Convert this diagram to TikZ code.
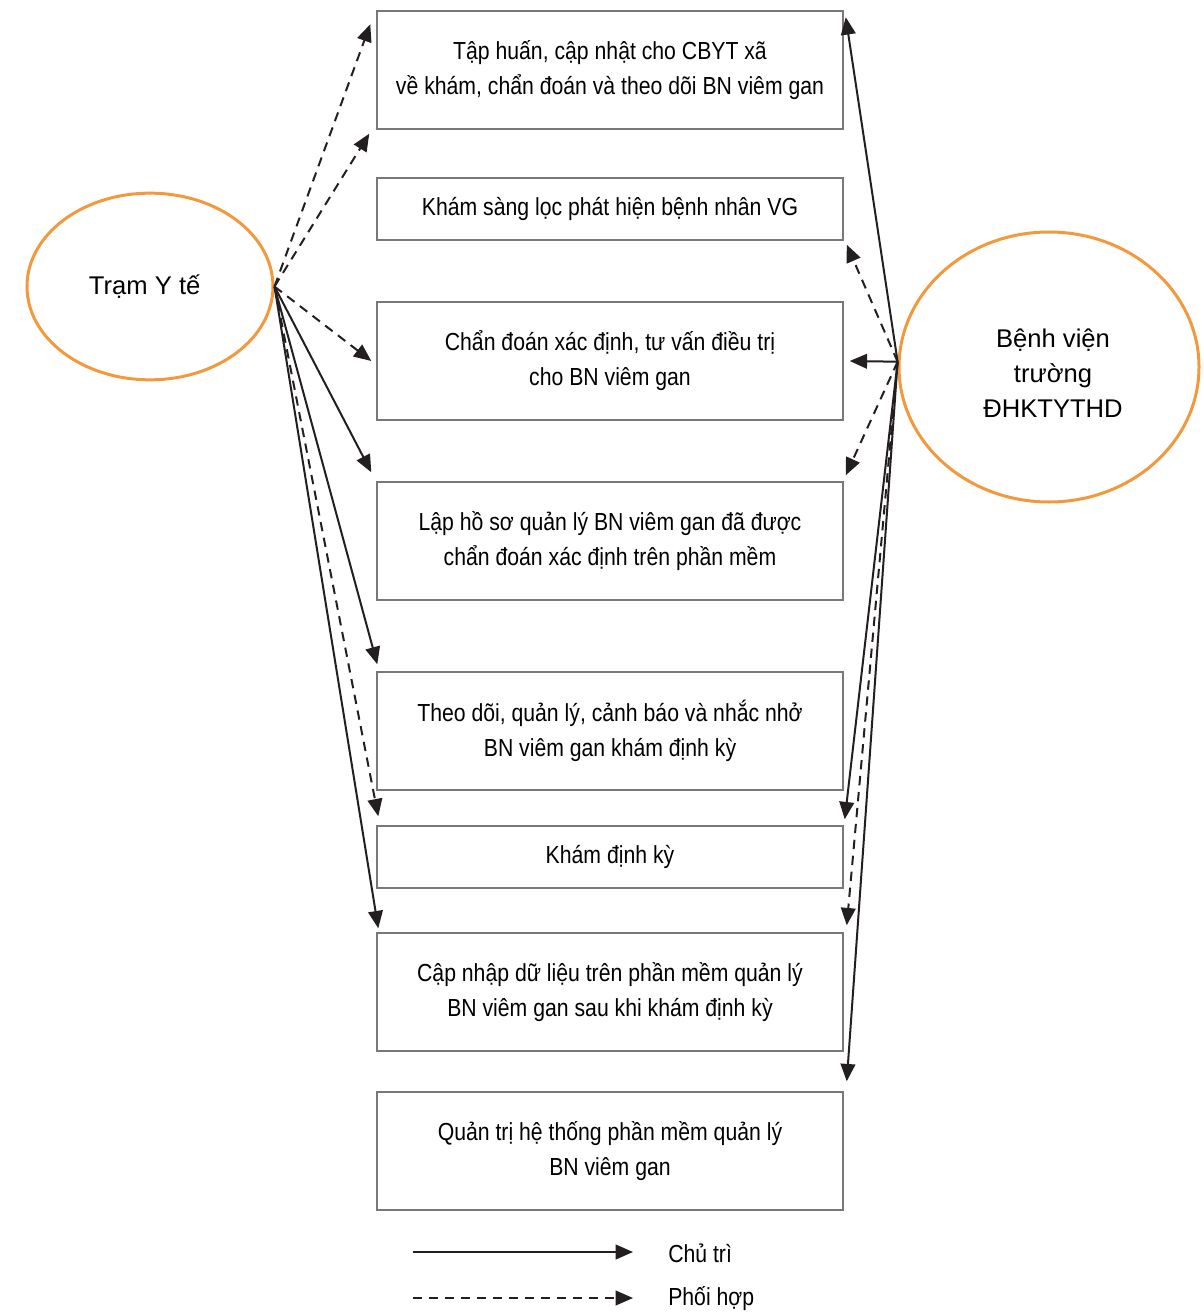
\documentclass[tikz,border=0pt]{standalone}
\usepackage{fontspec}
\setmainfont{Liberation Sans}
\newfontfamily\narrowfont[FakeStretch=0.86]{Liberation Sans}
\usetikzlibrary{shapes.geometric,arrows.meta,calc}

\definecolor{ovalorange}{RGB}{242,153,62}
\definecolor{boxgray}{RGB}{120,120,120}
\definecolor{arrowblack}{RGB}{35,31,32}

\tikzset{
  taskbox/.style={draw=boxgray, line width=1.1pt, minimum width=349.5pt, align=center, inner sep=0pt,
    font=\narrowfont\fontsize{18.5}{26.25}\selectfont},
  highbox/.style={taskbox, minimum height=88.5pt},
  lowbox/.style={taskbox, minimum height=46.5pt},
  oval/.style={draw=ovalorange, line width=2.25pt, ellipse, align=center, inner sep=0pt,
    font=\fontsize{19.2}{26.25}\selectfont},
  lead/.style={arrowblack, line width=1.5pt, -{Triangle[length=13pt,width=11pt]}},
  assist/.style={lead, dash pattern=on 7pt off 5pt},
}

\begin{document}
\begin{tikzpicture}[x=0.75pt,y=-0.75pt]
\useasboundingbox (0,0) rectangle (1203,1312);

% Boxes
\node[highbox] (training) at (610,70) {Tập huấn, cập nhật cho CBYT xã\\về khám, chẩn đoán và theo dõi BN viêm gan};
\node[lowbox] (screening) at (610,209) {Khám sàng lọc phát hiện bệnh nhân VG};
\node[highbox] (diagnosis) at (610,361) {Chẩn đoán xác định, tư vấn điều trị\\cho BN viêm gan};
\node[highbox] (records) at (610,541) {Lập hồ sơ quản lý BN viêm gan đã được\\chẩn đoán xác định trên phần mềm};
\node[highbox] (monitor) at (610,731) {Theo dõi, quản lý, cảnh báo và nhắc nhở\\BN viêm gan khám định kỳ};
\node[lowbox] (checkup) at (610,857) {Khám định kỳ};
\node[highbox] (update) at (610,992) {Cập nhập dữ liệu trên phần mềm quản lý\\BN viêm gan sau khi khám định kỳ};
\node[highbox] (admin) at (610,1151) {Quản trị hệ thống phần mềm quản lý\\BN viêm gan};

% Ellipses
\node[oval, minimum width=184.5pt, minimum height=140pt] (station) at (150,286.5) {Trạm Y tế\hspace*{8pt}};
\node[oval, minimum width=225pt, minimum height=202.5pt,
  label={[align=center, font=\fontsize{19.2}{26.25}\selectfont, xshift=3pt, yshift=-4.5pt]center:Bệnh viện\\trường\\ĐHKTYTHD}] (hospital) at (1049,367) {};

% Arrows from Tram Y te
\draw[assist] (station.east) -- ($(training.north west)+(-6,14)$);
\draw[assist] (station.east) -- ($(training.south west)+(-7,4)$);
\draw[assist] (station.east) -- ($(diagnosis.west)+(-5,0)$);
\draw[lead] (station.east) -- ($(records.north west)+(-5,-9)$);
\draw[lead] (station.east) -- ($(monitor.north west)+(1,-7)$);
\draw[assist] (station.east) -- ($(checkup.north west)+(2,-9)$);
\draw[lead] (station.east) -- ($(update.north west)+(2,-4)$);

% Arrows from Benh vien
\draw[lead] (hospital.178) -- ($(training.north east)+(2,7)$);
\draw[assist] (hospital.178) -- ($(screening.south east)+(3,4)$);
\draw[lead] (hospital.178) -- ($(diagnosis.east)+(6,0)$);
\draw[assist] (hospital.178) -- ($(records.north east)+(2,-6)$);
\draw[lead] (hospital.178) -- ($(checkup.north east)+(1,-6)$);
\draw[assist] (hospital.178) -- ($(update.north east)+(3,-7)$);
\draw[lead] (hospital.178) -- ($(admin.north east)+(3,-10)$);

% Legend
\node[anchor=west, inner sep=0pt, font=\narrowfont\fontsize{18.5}{22}\selectfont] (chutri) at (668,1253) {Chủ trì};
\node[anchor=west, inner sep=0pt, font=\narrowfont\fontsize{18.5}{22}\selectfont] (phoihop) at (668,1299) {Phối hợp};
\coordinate (solidstart) at (413,1252);
\coordinate (dashstart) at (413,1298);
\draw[lead] (solidstart) -- ($(chutri.west)+(-35,-1)$);
\draw[assist] (dashstart) -- ($(phoihop.west)+(-35,-1)$);

\end{tikzpicture}
\end{document}
